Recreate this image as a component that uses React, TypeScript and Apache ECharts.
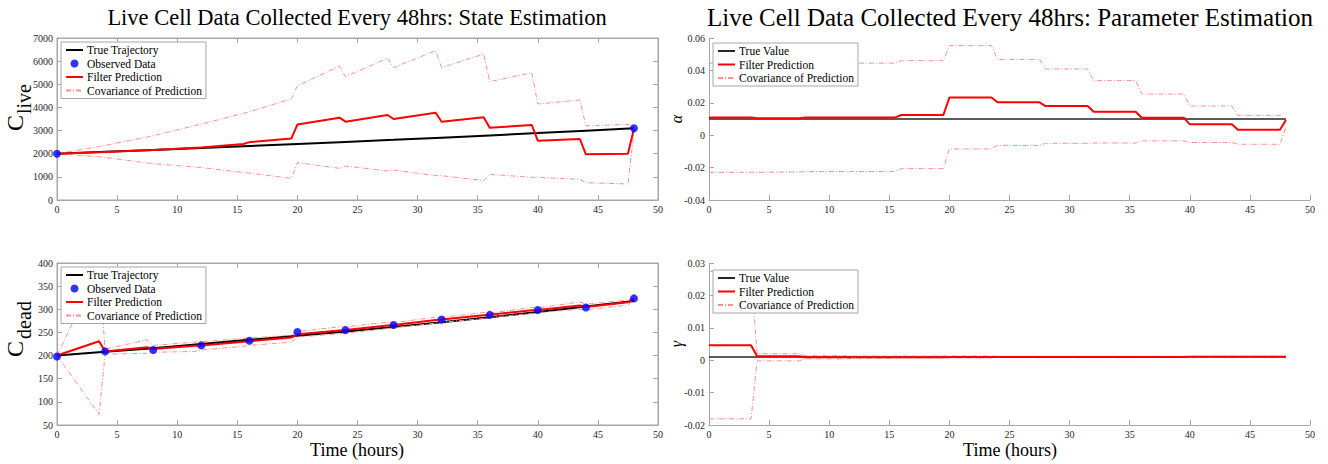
import React, { useEffect, useRef } from "react";
import * as echarts from "echarts";

// Filter step times: prediction up to t+3.5, update at t+4
const STEP_TIMES = [0, 3.5, 4, 7.5, 8, 11.5, 12, 15.5, 16, 19.5, 20, 23.5, 24, 27.5, 28, 31.5, 32, 35.5, 36, 39.5, 40, 43.5, 44, 47.5, 48];
// Sampling times every 4 hours
const SAMPLE_TIMES = [0, 4, 8, 12, 16, 20, 24, 28, 32, 36, 40, 44, 48];
const LIVE_OBS_TIMES = [0, 48];

// Live cells
const liveTrue = [2000, 2080, 2165, 2250, 2335, 2420, 2510, 2600, 2695, 2790, 2890, 2995, 3100];
const liveObserved = [2000, 3100];
const liveFilter = [2000, 2065, 2075, 2150, 2160, 2260, 2270, 2420, 2500, 2660, 3260, 3557, 3384, 3673, 3500, 3773, 3384, 3572, 3125, 3241, 2563, 2636, 1973, 2001, 3081];
const liveUpper = [2000, 2310, 2360, 2720, 2780, 3215, 3280, 3745, 3810, 4372, 4935, 5790, 5329, 6123, 5718, 6453, 5718, 6309, 5113, 5502, 4148, 4321, 3198, 3271, 3200];
const liveLower = [2000, 1870, 1840, 1600, 1570, 1420, 1400, 1183, 1160, 938, 1616, 1368, 1469, 1253, 1300, 1051, 1050, 835, 1110, 980, 980, 894, 749, 691, 2960];

// Dead cells
const deadTrue = [200, 208, 216, 225, 234, 243, 252, 262, 272, 283, 294, 306, 318];
const deadObserved = [198, 209, 212, 222, 232, 251, 255, 266, 278, 288, 298.5, 304, 323.5];
const deadFilter = [200, 231, 209, 218, 214, 221, 222, 230, 231, 239, 246, 254, 255, 265, 266, 277, 278, 287, 288, 298, 298.5, 308, 305, 315, 323];
const deadUpper = [200, 390, 214, 234, 222, 229, 230, 237, 238, 244, 252, 262, 262, 272, 271, 283, 282, 293, 292, 304, 303, 316, 311, 320, 325];
const deadLower = [200, 73, 203, 205, 207, 209, 212, 220, 222, 229, 240, 247, 248, 258, 260, 270, 272, 280, 283, 291, 293, 300, 299, 309, 322];

// Growth parameter alpha
const alphaTrue = [0.01, 0.01, 0.01, 0.01, 0.01, 0.01, 0.01, 0.01, 0.01, 0.01, 0.01, 0.01, 0.01];
const alphaFilter = [0.011, 0.011, 0.0105, 0.0105, 0.011, 0.011, 0.011, 0.011, 0.0125, 0.0125, 0.0233, 0.0233, 0.0203, 0.0203, 0.018, 0.018, 0.0145, 0.0145, 0.0108, 0.0108, 0.0067, 0.0067, 0.0034, 0.0034, 0.0094];
const alphaUpper = [0.0445, 0.0445, 0.0445, 0.0445, 0.0445, 0.0445, 0.0445, 0.0445, 0.046, 0.046, 0.0553, 0.0553, 0.0468, 0.0468, 0.0409, 0.0409, 0.0337, 0.0337, 0.0254, 0.0254, 0.018, 0.018, 0.0123, 0.0123, 0.0139];
const alphaLower = [-0.0229, -0.0229, -0.0229, -0.0227, -0.0225, -0.0224, -0.0224, -0.0223, -0.0206, -0.0206, -0.0085, -0.0085, -0.0063, -0.0063, -0.005, -0.005, -0.0048, -0.0048, -0.0035, -0.0035, -0.0045, -0.0045, -0.0056, -0.0056, 0.005];

// Death parameter gamma
const gammaTrue = [0.001, 0.001, 0.001, 0.001, 0.001, 0.001, 0.001, 0.001, 0.001, 0.001, 0.001, 0.001, 0.001];
const gammaFilter = [0.0046, 0.0046, 0.0012, 0.0012, 0.0009, 0.0009, 0.0009, 0.0009, 0.0009, 0.0009, 0.001, 0.001, 0.001, 0.001, 0.001, 0.001, 0.001, 0.001, 0.001, 0.001, 0.0011, 0.0011, 0.0011, 0.0011, 0.0011];
const gammaUpper = [0.0274, 0.0274, 0.002, 0.002, 0.0014, 0.0014, 0.0013, 0.0013, 0.0013, 0.0013, 0.0013, 0.0013, 0.0012, 0.0012, 0.0012, 0.0012, 0.0012, 0.0012, 0.0012, 0.0012, 0.0012, 0.0012, 0.0012, 0.0012, 0.0012];
const gammaLower = [-0.0181, -0.0181, -0.0002, -0.0002, 0.0004, 0.0004, 0.0006, 0.0006, 0.0007, 0.0007, 0.0007, 0.0007, 0.0008, 0.0008, 0.0008, 0.0008, 0.0008, 0.0008, 0.0009, 0.0009, 0.0009, 0.0009, 0.0009, 0.0009, 0.001];

const TIME_TICKS = { min: 0, max: 50, interval: 5 };
const LIVE_TICKS = { min: 0, max: 7000, interval: 1000 };
const DEAD_TICKS = { min: 50, max: 400, interval: 50 };
const ALPHA_TICKS = { min: -0.04, max: 0.06, interval: 0.02 };
const GAMMA_TICKS = { min: -0.02, max: 0.03, interval: 0.01 };

const LEFT_TITLE = "Live Cell Data Collected Every 48hrs: State Estimation";
const RIGHT_TITLE = "Live Cell Data Collected Every 48hrs: Parameter Estimation";
const X_NAME = "Time (hours)";

const SERIF = '"Liberation Serif", "Times New Roman", serif';
const AXIS_GRAY = "#a6a6a6";
const LABEL_COLOR = "#262626";
const COV_COLOR = "#ff8f8f";

const zip = (xs: number[], ys: number[]) => xs.map((x, i) => [x, ys[i]]);
const plainNumber = (v: number) => String(Number(v.toFixed(6)));

function buildOption() {
  const gridBox = (left: number, top: number, box: boolean) => ({
    left,
    top,
    width: 601,
    height: 162,
    show: box,
    borderColor: AXIS_GRAY,
    borderWidth: 1,
    backgroundColor: "transparent",
  });

  const axisBase = (range: any, gridIndex: number, position: string, labels: boolean) => ({
    type: "value",
    gridIndex,
    position,
    ...range,
    axisLine: { show: true, onZero: false, lineStyle: { color: AXIS_GRAY, width: 1 } },
    axisTick: { show: true, inside: true, length: 5, lineStyle: { color: AXIS_GRAY } },
    axisLabel: {
      show: labels,
      fontFamily: SERIF,
      fontSize: 10,
      color: LABEL_COLOR,
      margin: 4,
      formatter: plainNumber,
    },
    splitLine: { show: false },
  });

  const xAxis = [
    axisBase(TIME_TICKS, 0, "bottom", true),
    axisBase(TIME_TICKS, 1, "bottom", true),
    axisBase(TIME_TICKS, 2, "bottom", true),
    axisBase(TIME_TICKS, 3, "bottom", true),
    axisBase(TIME_TICKS, 0, "top", false),
    axisBase(TIME_TICKS, 1, "top", false),
  ];
  const yAxis = [
    axisBase(LIVE_TICKS, 0, "left", true),
    axisBase(DEAD_TICKS, 1, "left", true),
    axisBase(ALPHA_TICKS, 2, "left", true),
    axisBase(GAMMA_TICKS, 3, "left", true),
    axisBase(LIVE_TICKS, 0, "right", false),
    axisBase(DEAD_TICKS, 1, "right", false),
  ];

  const line = (name: string, idx: number, data: number[][], color: string, width: number, type: any = "solid", z = 2) => ({
    type: "line",
    name,
    xAxisIndex: idx,
    yAxisIndex: idx,
    data,
    symbol: "none",
    showSymbol: false,
    clip: true,
    z,
    lineStyle: { color, width, type },
    itemStyle: { color },
    emphasis: { disabled: true },
  });
  const dots = (name: string, idx: number, data: number[][]) => ({
    type: "scatter",
    name,
    xAxisIndex: idx,
    yAxisIndex: idx,
    data,
    symbol: "circle",
    symbolSize: 8,
    z: 4,
    itemStyle: { color: "#0000ff" },
    emphasis: { disabled: true },
  });
  const dash = [5, 2, 1, 2];

  const series = [
    line("True Trajectory", 0, zip(SAMPLE_TIMES, liveTrue), "#000000", 2),
    dots("Observed Data", 0, zip(LIVE_OBS_TIMES, liveObserved)),
    line("Filter Prediction", 0, zip(STEP_TIMES, liveFilter), "#ff0000", 2, "solid", 3),
    line("Covariance of Prediction", 0, zip(STEP_TIMES, liveUpper), COV_COLOR, 1, dash),
    line("Covariance of Prediction", 0, zip(STEP_TIMES, liveLower), COV_COLOR, 1, dash),

    line("True Trajectory", 1, zip(SAMPLE_TIMES, deadTrue), "#000000", 2),
    dots("Observed Data", 1, zip(SAMPLE_TIMES, deadObserved)),
    line("Filter Prediction", 1, zip(STEP_TIMES, deadFilter), "#ff0000", 2, "solid", 3),
    line("Covariance of Prediction", 1, zip(STEP_TIMES, deadUpper), COV_COLOR, 1, dash),
    line("Covariance of Prediction", 1, zip(STEP_TIMES, deadLower), COV_COLOR, 1, dash),

    line("True Value", 2, zip(SAMPLE_TIMES, alphaTrue), "#262626", 1.5),
    line("Filter Prediction", 2, zip(STEP_TIMES, alphaFilter), "#ff0000", 2, "solid", 3),
    line("Covariance of Prediction", 2, zip(STEP_TIMES, alphaUpper), COV_COLOR, 1, dash),
    line("Covariance of Prediction", 2, zip(STEP_TIMES, alphaLower), COV_COLOR, 1, dash),

    line("True Value", 3, zip(SAMPLE_TIMES, gammaTrue), "#262626", 1.5),
    line("Filter Prediction", 3, zip(STEP_TIMES, gammaFilter), "#ff0000", 2, "solid", 3),
    line("Covariance of Prediction", 3, zip(STEP_TIMES, gammaUpper), COV_COLOR, 1, dash),
    line("Covariance of Prediction", 3, zip(STEP_TIMES, gammaLower), COV_COLOR, 1, dash),
  ];

  // Line entries show only their stroke; the scatter entry keeps its dot
  const lineEntry = (name: string) => ({ name, itemStyle: { opacity: 0 } });
  const legendBox = (left: number, top: number, names: any[]) => ({
    left,
    top,
    orient: "vertical",
    data: names,
    selectedMode: false,
    backgroundColor: "#ffffff",
    borderColor: AXIS_GRAY,
    borderWidth: 1,
    borderRadius: 0,
    padding: [2, 4, 2, 4],
    itemWidth: 17,
    itemHeight: 8,
    itemGap: 1.5,
    z: 10,
    textStyle: { fontFamily: SERIF, fontSize: 11.5, color: "#000000", lineHeight: 12, padding: [0, 0, 0, -1] },
  });
  const stateNames = [
    lineEntry("True Trajectory"),
    { name: "Observed Data" },
    lineEntry("Filter Prediction"),
    lineEntry("Covariance of Prediction"),
  ];
  const paramNames = [lineEntry("True Value"), lineEntry("Filter Prediction"), lineEntry("Covariance of Prediction")];

  const text = (x: number, y: number, str: string, size: number, extra: any = {}) => ({
    type: "text",
    x,
    y,
    silent: true,
    ...extra,
    style: {
      text: str,
      fontFamily: SERIF,
      fontSize: size,
      fill: "#000000",
      align: "center",
      verticalAlign: "middle",
      ...(extra.style || {}),
    },
  });
  const up = { rotation: Math.PI / 2 };

  return {
    animation: false,
    backgroundColor: "#ffffff",
    grid: [gridBox(57, 38, true), gridBox(57, 263, true), gridBox(709, 38, false), gridBox(709, 263, false)],
    xAxis,
    yAxis,
    series,
    legend: [
      legendBox(61, 42, stateNames),
      legendBox(61, 267, stateNames),
      legendBox(713, 43, paramNames),
      legendBox(713, 270, paramNames),
    ],
    graphic: [
      text(357, 17, LEFT_TITLE, 22.5),
      text(1010, 17, RIGHT_TITLE, 25),
      text(357, 450, X_NAME, 18),
      text(1010, 450, X_NAME, 18),
      // C with subscript, read bottom to top
      text(15, 123, "C", 24, up),
      text(24, 99, "live", 20, up),
      text(15, 349, "C", 24, up),
      text(24, 320, "dead", 20, up),
      text(676, 119, "α", 16, { ...up, style: { fontStyle: "italic" } }),
      text(676, 344, "γ", 16, { ...up, style: { fontStyle: "italic" } }),
    ],
  };
}

export default function App() {
  const ref = useRef<HTMLDivElement>(null);
  useEffect(() => {
    if (!ref.current) return;
    const chart = echarts.init(ref.current, undefined, { renderer: "svg" });
    chart.setOption(buildOption() as any);
    return () => chart.dispose();
  }, []);
  return (
    <div
      ref={ref}
      style={{ position: "absolute", left: 0, top: 0, width: 1328, height: 464, background: "#fff" }}
    />
  );
}
